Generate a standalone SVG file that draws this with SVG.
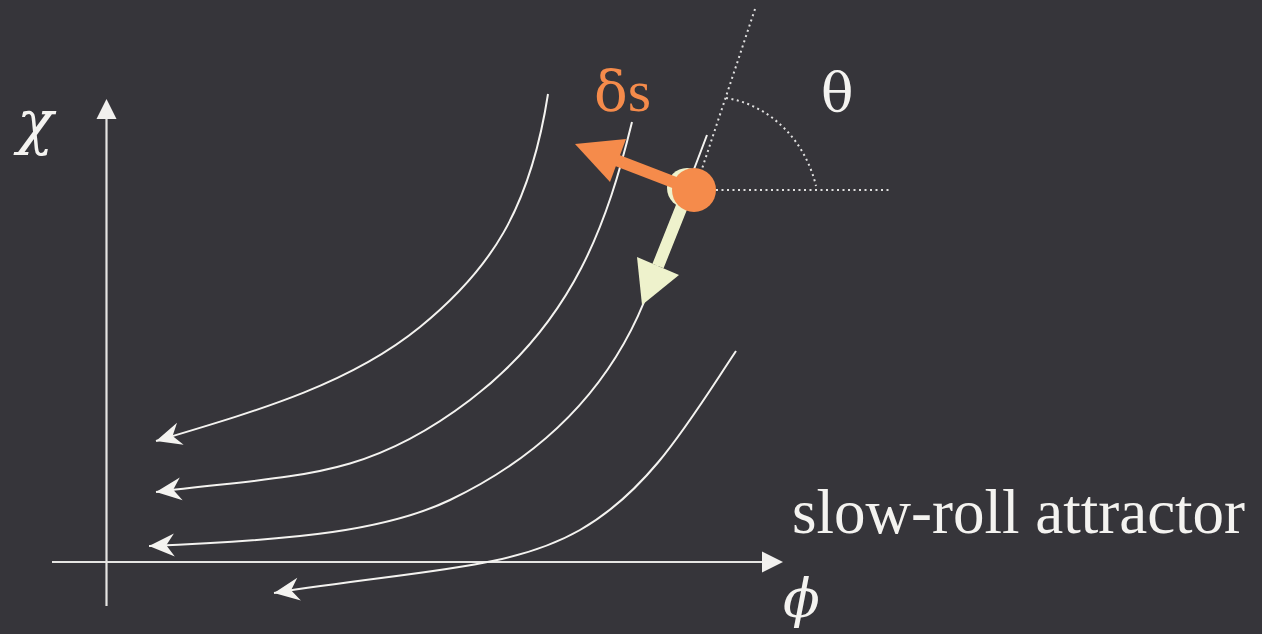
<svg xmlns="http://www.w3.org/2000/svg" width="1262" height="634" viewBox="0 0 1262 634">
<style>
.curve{fill:none;stroke:#f4f3f0;stroke-width:2;marker-end:url(#head)}
.axis{fill:none;stroke:#e6e5e3;stroke-width:2.2}
.dot{fill:none;stroke:#e0e0e0;stroke-width:2;stroke-dasharray:2 3.5}
.lbl{font-family:"Liberation Serif","Times New Roman",serif;fill:#f4f3f0}
.grk{font-family:"DejaVu Serif","Liberation Serif",serif}
</style>
<defs>
<marker id="head" markerUnits="userSpaceOnUse" markerWidth="30" markerHeight="30" viewBox="-24 -12 26 24" refX="0" refY="0" orient="auto">
<path d="M0,0 L-22,-10 L-15,0 L-22,10 Z" fill="#f4f3f0"/>
</marker>
</defs>
<rect width="1262" height="634" fill="#36353a"/>
<g id="axes">
<line class="axis" x1="106.5" y1="118" x2="106.5" y2="606"/>
<polygon points="106.5,99 96.5,119 116.5,119" fill="#f1f0ee"/>
<line class="axis" x1="52" y1="562" x2="764" y2="562"/>
<polygon points="783,562 762,551.5 762,572.5" fill="#f1f0ee"/>
<text class="grk" x="17" y="143" font-size="60" font-style="italic" fill="#f4f3f0">χ</text>
<text class="grk" x="783" y="617" font-size="54" font-style="italic" fill="#f4f3f0">ϕ</text>
</g>
<g id="connectors">
<path class="curve" d="M548,94 C530,210 490,270 420,327 S260,410 156,441"/>
<path class="curve" d="M632,122 C608,220 575,320 470,400 S300,474 156,492"/>
<path class="curve" d="M707,135 L655,272 C630,350 575,440 450,500 C387,530 300,540 149,546"/>
<path class="curve" d="M736,351 C690,420 650,490 580,530 S420,570 274,593"/>
</g>
<g id="angle">
<line class="dot" x1="755" y1="9" x2="695" y2="190"/>
<line class="dot" x1="694" y1="190" x2="890" y2="190"/>
<path class="dot" d="M726,98 C770,105 805,140 816,186"/>
<text class="grk" x="821" y="111" font-size="54" fill="#f4f3f0">θ</text>
</g>
<g id="point">
<line x1="658" y1="266" x2="686" y2="196" stroke="#eef2cc" stroke-width="12"/>
<polygon points="642,305 637,257 679,275" fill="#eef2cc"/>
<circle cx="687" cy="188" r="20" fill="#eef2cc"/>
<line x1="616" y1="160" x2="694" y2="190" stroke="#f58b4b" stroke-width="12"/>
<polygon points="575,144 626,139 610,182" fill="#f58b4b"/>
<circle cx="694" cy="190" r="22" fill="#f58b4b"/>
<text x="594" y="111" font-size="56" fill="#f58b4b"><tspan class="grk">δ</tspan><tspan font-family="Liberation Serif, serif" font-size="60">s</tspan></text>
</g>
<g id="label">
<text class="lbl" x="792" y="533" font-size="63">slow-roll attractor</text>
</g>
</svg>
